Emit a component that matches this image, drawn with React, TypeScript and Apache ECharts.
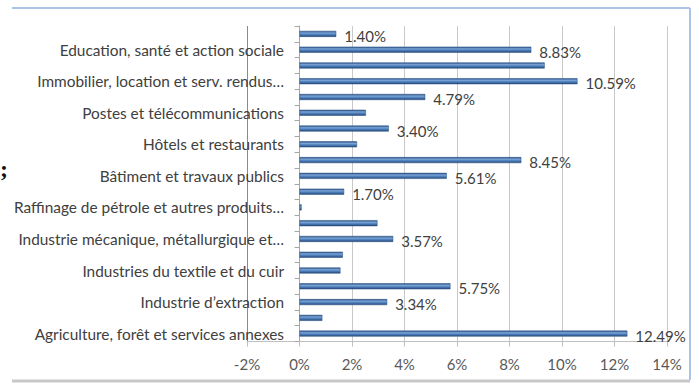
import React, { useEffect, useRef } from "react";
import * as echarts from "echarts";

// Categories, bottom to top (as in the source worksheet)
const categories: string[] = [
  "Agriculture, forêt et services annexes",
  "Pêche, aquaculture",
  "Industrie d\u2019extraction",
  "Industries alimentaires et tabac",
  "Industries du textile et du cuir",
  "Industrie chimique et parachimique",
  "Industrie mécanique, métallurgique et\u2026",
  "Autres industries manufacturières hors raffinage de pétrole",
  "Raffinage de pétrole et autres produits\u2026",
  "Electricité et eau",
  "Bâtiment et travaux publics",
  "Commerce",
  "Hôtels et restaurants",
  "Transports",
  "Postes et télécommunications",
  "Activités financières et assurances",
  "Immobilier, location et serv. rendus\u2026",
  "Administration publique générale et sécurité sociale",
  "Education, santé et action sociale",
  "Autres services non financiers",
];

const values: number[] = [
  12.49, 0.87, 3.34, 5.75, 1.56, 1.65, 3.57, 2.97, 0.08, 1.7,
  5.61, 8.45, 2.19, 3.4, 2.53, 4.79, 10.59, 9.34, 8.83, 1.4,
];

const labelled: boolean[] = [
  true, false, true, true, false, false, true, false, false, true,
  true, true, false, true, false, true, true, false, true, true,
];

const xTicks: number[] = [-2, 0, 2, 4, 6, 8, 10, 12, 14];

const FONT = "Lato, 'Open Sans', sans-serif";

export default function App() {
  const ref = useRef<HTMLDivElement>(null);
  useEffect(() => {
    if (!ref.current) return;
    const chart = echarts.init(ref.current, null, { renderer: "svg" });
    const barColor = new echarts.graphic.LinearGradient(0, 0, 0, 1, [
      { offset: 0, color: "#2a568c" },
      { offset: 0.35, color: "#7aa2d4" },
      { offset: 0.6, color: "#4f81bd" },
      { offset: 1, color: "#24497a" },
    ]);
    const gridColors = xTicks.map((t, i) => (i === 0 ? "#8a8a8a" : "#c9c9c9"));
    chart.setOption({
      animation: false,
      backgroundColor: "#ffffff",
      grid: { left: 247, right: 32, top: 26, height: 315.5, containLabel: false },
      xAxis: {
        type: "value",
        min: xTicks[0],
        max: xTicks[xTicks.length - 1],
        interval: 2,
        axisLine: { show: true, lineStyle: { color: "#bfbfbf" } },
        axisTick: { show: true, length: 5, lineStyle: { color: "#bfbfbf" } },
        axisLabel: {
          formatter: "{value}%",
          color: "#595959",
          fontSize: 15,
          fontFamily: FONT,
          margin: 15,
        },
        splitLine: { show: true, lineStyle: { color: gridColors, width: 1 } },
      },
      yAxis: {
        type: "category",
        data: categories,
        axisLine: { show: true, onZero: true, lineStyle: { color: "#a6a6a6" } },
        axisTick: { show: true, interval: 0, length: 5, lineStyle: { color: "#a6a6a6" } },
        axisLabel: {
          interval: 1,
          color: "#404040",
          fontSize: 15.4,
          fontFamily: FONT,
          margin: -37,
        },
        splitLine: { show: false },
      },
      series: [
        {
          type: "bar",
          barWidth: 6,
          data: values.map((v, i) => ({
            value: v,
            label: {
              show: labelled[i],
              position: "right",
              distance: 8,
              offset: [0, 2],
              formatter: (p: any) => p.value.toFixed(2) + "%",
              color: "#404040",
              fontSize: 15,
              fontFamily: FONT,
            },
          })),
          itemStyle: { color: barColor, borderColor: "#2a4f7e", borderWidth: 0.5 },
        },
      ],
      graphic: [
        { type: "line", shape: { x1: 12, y1: 8, x2: 690, y2: 8 }, style: { stroke: "#a9c4e6", lineWidth: 2 } },
        { type: "line", shape: { x1: 690, y1: 8, x2: 690, y2: 380 }, style: { stroke: "#a9c4e6", lineWidth: 2 } },
        { type: "line", shape: { x1: 12, y1: 381, x2: 690, y2: 381 }, style: { stroke: "#c8c8c8", lineWidth: 3 } },
        { type: "text", x: 0, y: 157, style: { text: ";", fill: "#111", fontSize: 24, fontWeight: "bold", fontFamily: "'Liberation Serif', serif" } },
      ],
    });
    return () => chart.dispose();
  }, []);
  return (
    <div
      ref={ref}
      style={{ position: "fixed", left: 0, top: 0, width: 699, height: 385 }}
    />
  );
}
